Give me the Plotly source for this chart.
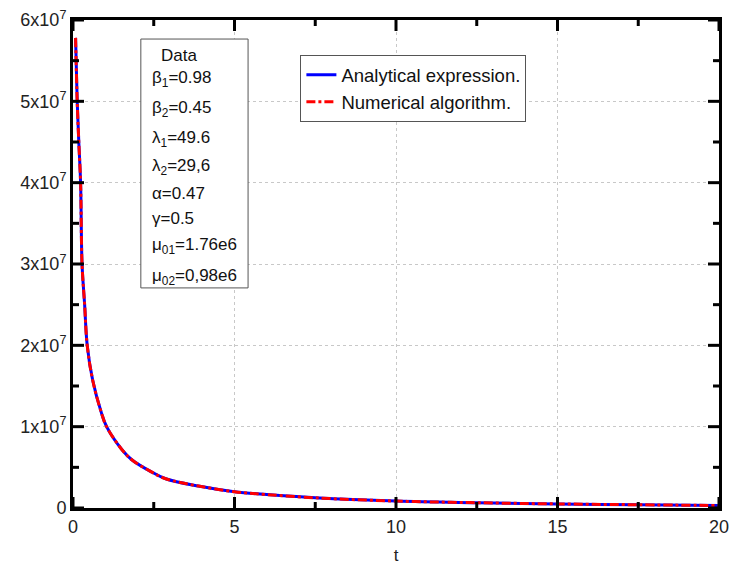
import plotly.graph_objects as go

# values
t_vals = [0.08, 0.13, 0.18, 0.235, 0.28, 0.36, 0.44, 0.61, 0.88, 1.04, 1.53,
          1.83, 2.4, 2.87, 3.88, 5.0, 6.0, 7.5, 10.0, 12.5, 15.0, 17.5, 20.0]
y_vals = [5.78e7, 5.0e7, 4.5e7, 4.0e7, 3.0e7, 2.5e7, 2.0e7, 1.57e7, 1.17e7,
          1.0e7, 0.71e7, 0.59e7, 0.45e7, 0.36e7, 0.27e7, 0.2e7, 0.165e7,
          0.125e7, 0.085e7, 0.065e7, 0.05e7, 0.04e7, 0.03e7]

y_ticks = [0, 1e7, 2e7, 3e7, 4e7, 5e7, 6e7]
y_minor = [0.5e7, 1.5e7, 2.5e7, 3.5e7, 4.5e7, 5.5e7]
y_ticktext = ["0"] + [f"{k}x10<sup>7</sup>" for k in range(1, 7)]
x_ticks = [0, 5, 10, 15, 20]
x_minor = [2.5, 7.5, 12.5, 17.5]

data_lines = [
    "&#946;<sub>1</sub>=0.98",
    "&#946;<sub>2</sub>=0.45",
    "&#955;<sub>1</sub>=49.6",
    "&#955;<sub>2</sub>=29,6",
    "&#945;=0.47",
    "&#947;=0.5",
    "&#956;<sub>01</sub>=1.76e6",
    "&#956;<sub>02</sub>=0,98e6",
]

FONT = "Liberation Sans, Arial, sans-serif"

fig = go.Figure()

fig.add_trace(
    go.Scatter(
        x=t_vals,
        y=y_vals,
        mode="lines",
        line=dict(color="#0000ff", width=3, shape="spline"),
        name="Analytical expression."
    )
)

fig.add_trace(
    go.Scatter(
        x=t_vals,
        y=y_vals,
        mode="lines",
        line=dict(color="#ff0000", width=3, dash="dashdot", shape="spline"),
        name="Numerical algorithm."
    )
)

axis_common = dict(
    showline=True,
    linecolor="black",
    linewidth=3,
    mirror=True,
    ticks="",
    showgrid=True,
    gridcolor="#c8c8c8",
    griddash="dot",
    gridwidth=1,
    zeroline=False,
    tickfont=dict(family=FONT, size=18, color="#222"),
)

fig.update_layout(
    xaxis=dict(
        range=[0, 20],
        tickvals=x_ticks,
        title=dict(text="t", font=dict(family=FONT, size=17, color="#222"), standoff=14),
        **axis_common
    ),
    yaxis=dict(
        range=[0, 6e7],
        tickvals=y_ticks,
        ticktext=y_ticktext,
        **axis_common
    ),
)

# inside tick marks on all four sides
tick_line = dict(color="black", width=3)
for vals, size in ((x_ticks, 11), (x_minor, 6)):
    for v in vals:
        for anchor, sign in ((0, 1), (1, -1)):
            fig.add_shape(type="line", xref="x", yref="paper",
                          ysizemode="pixel", yanchor=anchor,
                          x0=v, x1=v, y0=0, y1=sign * size,
                          line=tick_line, layer="above")
for vals, size in ((y_ticks, 11), (y_minor, 6)):
    for v in vals:
        for anchor, sign in ((0, 1), (1, -1)):
            fig.add_shape(type="line", xref="paper", yref="y",
                          xsizemode="pixel", xanchor=anchor,
                          x0=0, x1=sign * size, y0=v, y1=v,
                          line=tick_line, layer="above")

# parameter box
fig.add_shape(type="rect", xref="paper", yref="paper",
              x0=0.105, x1=0.271, y0=0.451, y1=0.961,
              line=dict(color="#555", width=1), fillcolor="white", layer="above")

fig.add_annotation(text="Data", xref="paper", yref="paper",
                   x=0.133, y=0.928, xanchor="left", yanchor="middle",
                   showarrow=False, font=dict(family=FONT, size=17, color="#111"))

line_y = [0.879, 0.817, 0.757, 0.698, 0.645, 0.594, 0.536, 0.474]
for txt, yy in zip(data_lines, line_y):
    fig.add_annotation(text=txt, xref="paper", yref="paper",
                       x=0.119, y=yy, xanchor="left", yanchor="middle",
                       showarrow=False, font=dict(family=FONT, size=17, color="#111"))

fig.update_layout(
    width=737,
    height=571,
    margin=dict(l=73, r=8, t=20, b=63),
    paper_bgcolor="white",
    plot_bgcolor="white",
    font=dict(family=FONT),
    legend=dict(
        x=0.352, y=0.928, xanchor="left", yanchor="top",
        bordercolor="#555", borderwidth=1, bgcolor="white",
        font=dict(family=FONT, size=18.5, color="#111"),
        tracegroupgap=0,
    ),
)

fig.write_html("out.html", post_script="document.body.style.margin='0';",
               config={"displayModeBar": False})
